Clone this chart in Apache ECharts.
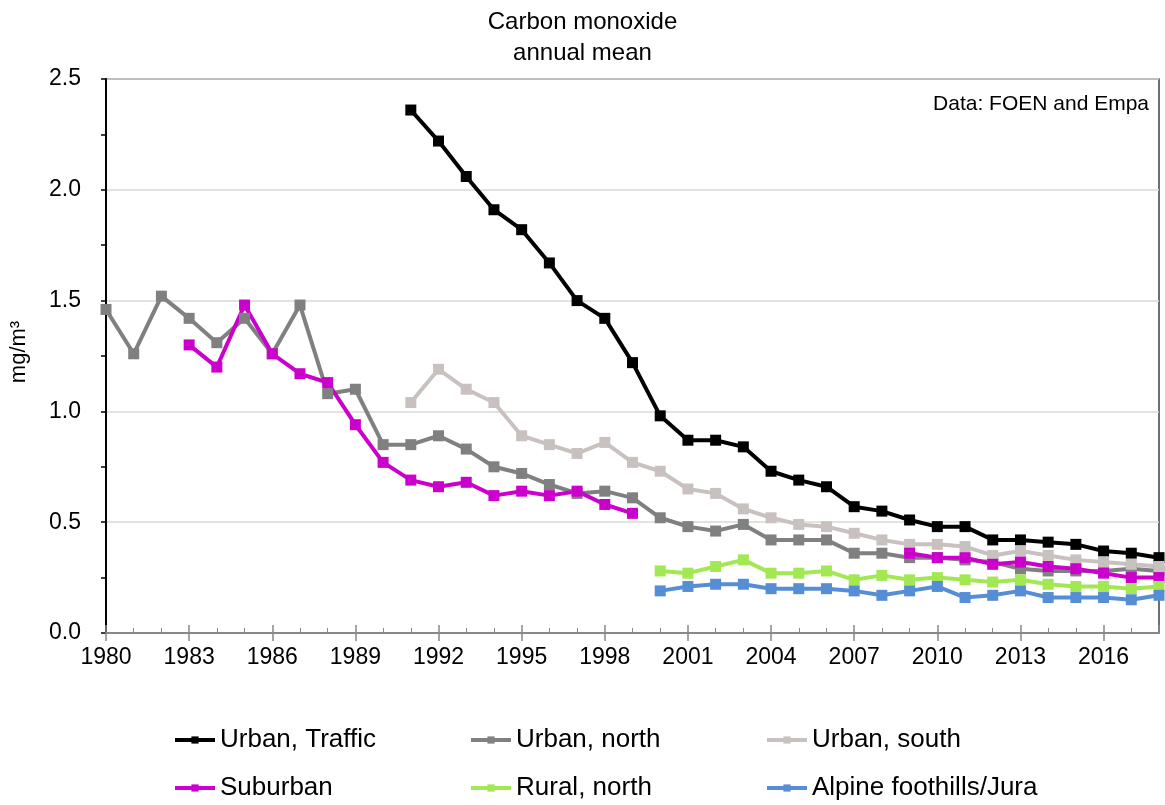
<!DOCTYPE html>
<html>
<head>
<meta charset="utf-8">
<title>Carbon monoxide annual mean</title>
<script src="https://cdn.jsdelivr.net/npm/echarts@6/dist/echarts.min.js"></script>
<style>
  html, body { margin: 0; padding: 0; background: #fff; }
  #chart { width: 1165px; height: 805px; }
</style>
</head>
<body>
<div id="chart"></div>
<script>
// years on the x axis, one value per year (null = no measurement)
const years = [1980, 1981, 1982, 1983, 1984, 1985, 1986, 1987, 1988, 1989,
  1990, 1991, 1992, 1993, 1994, 1995, 1996, 1997, 1998, 1999,
  2000, 2001, 2002, 2003, 2004, 2005, 2006, 2007, 2008, 2009,
  2010, 2011, 2012, 2013, 2014, 2015, 2016, 2017, 2018];

const urbanTraffic = [null, null, null, null, null, null, null, null, null, null,
  null, 2.36, 2.22, 2.06, 1.91, 1.82, 1.67, 1.50, 1.42, 1.22,
  0.98, 0.87, 0.87, 0.84, 0.73, 0.69, 0.66, 0.57, 0.55, 0.51,
  0.48, 0.48, 0.42, 0.42, 0.41, 0.40, 0.37, 0.36, 0.34];

const urbanNorth = [1.46, 1.26, 1.52, 1.42, 1.31, 1.42, 1.26, 1.48, 1.08, 1.10,
  0.85, 0.85, 0.89, 0.83, 0.75, 0.72, 0.67, 0.63, 0.64, 0.61,
  0.52, 0.48, 0.46, 0.49, 0.42, 0.42, 0.42, 0.36, 0.36, 0.34,
  0.34, 0.33, 0.32, 0.29, 0.28, 0.28, 0.28, 0.29, 0.28];

const urbanSouth = [null, null, null, null, null, null, null, null, null, null,
  null, 1.04, 1.19, 1.10, 1.04, 0.89, 0.85, 0.81, 0.86, 0.77,
  0.73, 0.65, 0.63, 0.56, 0.52, 0.49, 0.48, 0.45, 0.42, 0.40,
  0.40, 0.39, 0.35, 0.37, 0.35, 0.33, 0.32, 0.31, 0.30];

const suburban = [null, null, null, 1.30, 1.20, 1.48, 1.26, 1.17, 1.13, 0.94,
  0.77, 0.69, 0.66, 0.68, 0.62, 0.64, 0.62, 0.64, 0.58, 0.54,
  null, null, null, null, null, null, null, null, null, 0.36,
  0.34, 0.34, 0.31, 0.32, 0.30, 0.29, 0.27, 0.25, 0.25];

const ruralNorth = [null, null, null, null, null, null, null, null, null, null,
  null, null, null, null, null, null, null, null, null, null,
  0.28, 0.27, 0.30, 0.33, 0.27, 0.27, 0.28, 0.24, 0.26, 0.24,
  0.25, 0.24, 0.23, 0.24, 0.22, 0.21, 0.21, 0.20, 0.21];

const alpine = [null, null, null, null, null, null, null, null, null, null,
  null, null, null, null, null, null, null, null, null, null,
  0.19, 0.21, 0.22, 0.22, 0.20, 0.20, 0.20, 0.19, 0.17, 0.19,
  0.21, 0.16, 0.17, 0.19, 0.16, 0.16, 0.16, 0.15, 0.17];

const seriesNames = ['Urban, Traffic', 'Urban, north', 'Urban, south',
  'Suburban', 'Rural, north', 'Alpine foothills/Jura'];
const seriesValues = [urbanTraffic, urbanNorth, urbanSouth, suburban, ruralNorth, alpine];
const seriesColors = ['#000000', '#808080', '#c9c1c0', '#cc00cc', '#a2e852', '#558ed5'];

const chartDom = document.getElementById('chart');
const myChart = echarts.init(chartDom);

const font = 'Liberation Sans, Arial, sans-serif';

const series = seriesNames.map((name, i) => ({
    name: name,
    type: 'line',
    data: years.map((y, j) => [y, seriesValues[i][j]]),
    symbol: 'rect',
    symbolSize: 11,
    connectNulls: false,
    showAllSymbol: true,
    animation: false,
    lineStyle: { width: 4, color: seriesColors[i] },
    itemStyle: { color: seriesColors[i] }
}));

const option = {
    backgroundColor: '#fff',
    textStyle: { fontFamily: font },
    title: [{
        text: 'Carbon monoxide\nannual mean',
        left: 'center',
        top: 2,
        textStyle: { fontSize: 24, fontWeight: 'normal', color: '#000', lineHeight: 31, fontFamily: font }
    }, {
        text: 'Data: FOEN and Empa',
        right: 11,
        top: 89,
        textStyle: { fontSize: 21, fontWeight: 'normal', color: '#000', fontFamily: font }
    }],
    legend: {
        left: 168,
        top: 711,
        width: 900,
        itemWidth: 40,
        itemHeight: 9,
        itemGap: 0,
        itemTextGap: 4,
        data: seriesNames,
        lineStyle: { width: 4 },
        textStyle: { fontSize: 26, color: '#000', width: 249, lineHeight: 48, fontFamily: font }
    },
    grid: {
        left: 104,
        right: 6,
        top: 79,
        bottom: 172,
        show: true,
        borderColor: '#404040',
        borderWidth: 1.5
    },
    xAxis: [{
        type: 'value',
        min: 1980,
        max: 2018,
        interval: 3,
        axisLine: { show: true, lineStyle: { color: '#888', width: 2 } },
        axisTick: { show: true, inside: false, length: 8, lineStyle: { color: '#888', width: 1.5 } },
        minorTick: { show: false },
        splitLine: { show: false },
        axisLabel: { fontSize: 23, color: '#000', margin: 13, showMaxLabel: false, formatter: v => String(v) }
    }, {
        type: 'value',
        position: 'bottom',
        min: 1980,
        max: 2018,
        interval: 3,
        axisLine: { show: true, lineStyle: { color: '#888', width: 2 } },
        axisTick: { show: true, inside: true, length: 8, lineStyle: { color: '#888', width: 1.5 } },
        minorTick: { show: true, splitNumber: 3, length: 5, lineStyle: { color: '#888', width: 1 } },
        splitLine: { show: false },
        axisLabel: { show: false }
    }],
    yAxis: {
        type: 'value',
        min: 0,
        max: 2.5,
        interval: 0.5,
        name: 'mg/m³',
        nameLocation: 'middle',
        nameRotate: 90,
        nameGap: 76,
        nameTextStyle: { fontSize: 22, color: '#000', fontFamily: font, padding: [0, 0, 0, 8] },
        axisLine: { show: true, lineStyle: { color: '#000', width: 2 } },
        axisTick: { show: true, inside: false, length: 5, lineStyle: { color: '#000', width: 1.5 } },
        minorTick: { show: true, splitNumber: 2, length: 5, lineStyle: { color: '#000', width: 1.5 } },
        splitLine: { show: true, lineStyle: { color: '#d9d9d9', width: 1.5 } },
        axisLabel: { fontSize: 23, color: '#000', margin: 25, formatter: v => v.toFixed(1) }
    },
    series: series
};

myChart.setOption(option);
window.addEventListener('resize', () => {
    myChart.resize();
});
</script>
</body>
</html>
